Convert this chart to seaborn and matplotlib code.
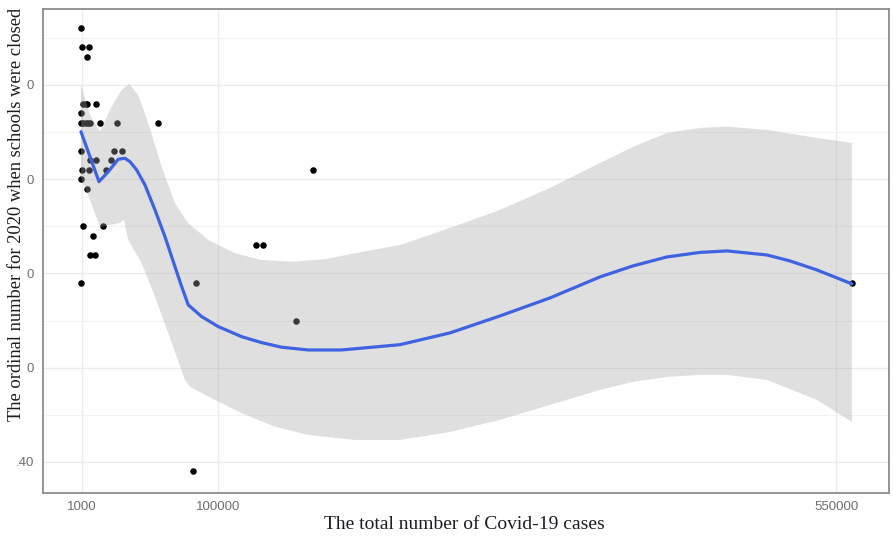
import numpy as np
import pandas as pd
import matplotlib
matplotlib.use("Agg")
import matplotlib.pyplot as plt
import seaborn as sns

# Observed countries: total Covid-19 cases vs ordinal day of 2020 when schools closed
cases = [272, 1218, 6096, 4640, 272, 1946, 3693, 4858, 10973, 272,
         1946, 3693, 5368, 6824, 13885, 26260, 56544, 272, 24295, 30337,
         6824, 10973, 21893, 1218, 6096, 18253, 272, 4640, 169377, 1946,
         16506, 8789, 6824, 10463, 127665, 132542, 272, 83988, 156565, 82022,
         561735]
closing_day = [86, 84, 84, 83, 77, 78, 78, 78, 78, 76,
               76, 76, 76, 76, 76, 76, 76, 73, 73, 73,
               72, 72, 72, 71, 71, 71, 70, 69, 71, 65,
               65, 64, 62, 62, 63, 63, 59, 59, 55, 39,
               59]

# Loess smooth
fit_x = [272, 6824, 13375, 20146, 27425, 32302, 35942, 40819, 46861, 54141,
         61420, 68700, 73577, 78381, 88136, 100221, 117254, 131814, 146373,
         165737, 190050, 232491, 268890, 305288, 341686, 378084, 402102,
         426857, 450859, 470535, 499653, 516395, 536051, 561529]
fit_y = [75.04, 72.39, 69.74, 70.80, 72.12, 72.22, 71.86, 70.98, 69.39, 66.74,
         63.90, 60.72, 58.60, 56.66, 55.42, 54.36, 53.29, 52.66, 52.17,
         51.88, 51.88, 52.44, 53.69, 55.49, 57.40, 59.63, 60.80,
         61.75, 62.23, 62.39, 61.96, 61.33, 60.37, 58.89]

# Upper and lower edges of the smooth's confidence band
upper_x = [272, 6824, 14103, 22620, 29900, 35432, 41984, 49264, 59018, 68700,
           78381, 92941, 112378, 131814, 153653, 177894, 199733, 232491,
           268890, 305288, 341686, 378084, 402102, 426857, 450859, 470535,
           499653, 536051, 561529]
upper_y = [80.00, 76.82, 75.04, 77.70, 79.47, 80.11, 78.94, 75.94, 71.33, 67.45,
           65.33, 63.55, 62.14, 61.43, 61.25, 61.51, 62.14, 63.02,
           64.83, 66.74, 69.07, 71.72, 73.42, 74.91, 75.44, 75.58,
           75.23, 74.38, 73.85]
lower_x = [272, 6824, 14103, 28662, 31574, 34704, 44458, 54141, 63823, 75981,
           79620, 92941, 117254, 141495, 165737, 199733, 232491, 268890,
           305288, 341686, 378084, 402102, 426857, 450859, 470535, 499653,
           536051, 561529]
lower_y = [70.10, 67.80, 64.93, 65.36, 65.68, 63.55, 61.08, 57.54, 53.66, 48.70,
           47.99, 46.93, 45.17, 43.74, 42.86, 42.33, 42.33, 43.18,
           44.46, 46.05, 47.64, 48.49, 49.02, 49.23, 49.23, 48.70,
           46.58, 44.24]

x_breaks = [1000, 100000, 550000]
x_labels = ["1000", "100000", "550000"]
y_breaks = [80, 70, 60, 50, 40]
y_labels = ["0", "0", "0", "0", ".40"]
y_minor = [85, 75, 65, 55, 45]

points = pd.DataFrame({"cases": cases, "day": closing_day})
smooth = pd.DataFrame({"cases": fit_x, "fit": fit_y})

sns.set_style("white")
plt.rcParams["font.family"] = ["Liberation Sans", "DejaVu Sans"]

fig = plt.figure(figsize=(8.93, 5.39), dpi=100)
ax = fig.add_axes([0.0478, 0.0853, 0.9477, 0.898])

sns.scatterplot(data=points, x="cases", y="day", ax=ax, color="black",
                s=22, linewidth=0, zorder=3)
band_x = np.r_[upper_x, lower_x[::-1]]
band_y = np.r_[upper_y, lower_y[::-1]]
ax.fill(band_x, band_y, color="#A6A6A6", alpha=0.35, linewidth=0, zorder=4)
sns.lineplot(data=smooth, x="cases", y="fit", ax=ax, color="#3F62E0",
             linewidth=2.3, zorder=5)

ax.set_xlim(-27600, 588500)
ax.set_ylim(36.7, 88.06)
ax.set_xticks(x_breaks)
ax.set_xticklabels(x_labels)
ax.set_yticks(y_breaks)
ax.set_yticklabels(y_labels)
ax.set_yticks(y_minor, minor=True)

ax.grid(True, which="major", color="#EBEBEB", linewidth=1.0, zorder=0)
ax.grid(True, which="minor", axis="y", color="#F2F2F2", linewidth=0.8, zorder=0)
ax.set_axisbelow(True)

for side in ax.spines.values():
    side.set_visible(True)
    side.set_color("#8C8C8C")
    side.set_linewidth(1.3)

ax.tick_params(axis="both", which="major", length=3, width=1, color="#555555",
               labelsize=9.5, labelcolor="#6E6E6E", pad=3)
ax.tick_params(axis="y", which="minor", length=0)
ax.set_xlabel("")
ax.set_ylabel("")

fig.text(0.52, 0.026, "The total number of Covid-19 cases",
         family=["Liberation Serif", "DejaVu Serif"], fontsize=14,
         color="#1C1C24", ha="center", va="center")
fig.text(0.018, 1 - 214 / 539, "The ordinal number for 2020 when schools were closed",
         family=["Liberation Serif", "DejaVu Serif"], fontsize=13.3,
         color="#1C1C24", ha="center", va="center", rotation=90)

fig.savefig("out.png", dpi=100)
